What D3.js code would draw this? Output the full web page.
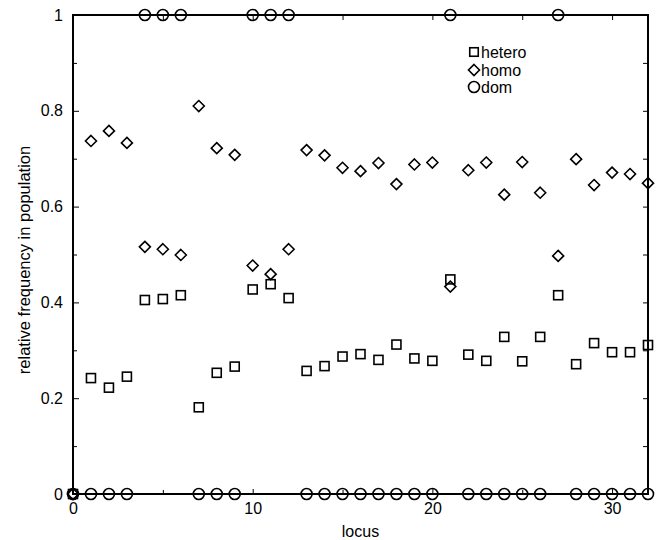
<!DOCTYPE html>
<html><head><meta charset="utf-8">
<script src="https://cdn.jsdelivr.net/npm/d3@7"></script>
<style>body{margin:0;background:#fff}svg{display:block}text{font-family:"Liberation Sans",Arial,sans-serif;fill:#000}</style>
</head><body><svg id="c" width="657" height="540"></svg>
<script>
const loci = d3.range(0, 33);
const hetero = [0,0.242,0.222,0.245,0.405,0.407,0.415,0.181,0.253,0.266,0.427,0.438,0.409,0.257,0.267,0.287,0.292,0.280,0.312,0.283,0.278,0.448,0.291,0.278,0.328,0.277,0.328,0.415,0.271,0.315,0.296,0.296,0.311];
const homo = [0,0.737,0.758,0.733,0.516,0.511,0.499,0.810,0.722,0.708,0.477,0.459,0.511,0.718,0.707,0.681,0.674,0.691,0.647,0.688,0.692,0.433,0.676,0.692,0.625,0.693,0.629,0.497,0.699,0.645,0.671,0.668,0.649];
const dom = [0,0,0,0,1,1,1,0,0,0,1,1,1,0,0,0,0,0,0,0,0,1,0,0,0,0,0,1,0,0,0,0,0];
const yTicks = [0,0.2,0.4,0.6,0.8,1];
const yMinor = [0.1,0.3,0.5,0.7,0.9];
const xTicks = [0,10,20,30];
const xMinor = [5,15,25];
const seriesNames = ["hetero","homo","dom"];

const svg = d3.select("#c");
const x = d3.scaleLinear().domain([0,32]).range([73,648]);
const y = d3.scaleLinear().domain([0,1]).range([494,15]);

const fs = "16px";
function styleAxis(g){ g.select(".domain").remove(); g.selectAll("line").attr("stroke","#000").attr("stroke-width",1); g.selectAll("text").style("font-size",fs).style("font-family","Liberation Sans, Arial, sans-serif"); }
svg.append("g").attr("transform",`translate(${x(0)},0)`)
  .call(d3.axisLeft(y).tickValues(yTicks).tickSizeInner(-6).tickPadding(10).tickFormat(d3.format("~g"))).call(styleAxis);
svg.append("g").attr("transform",`translate(${x(0)},0)`)
  .call(d3.axisLeft(y).tickValues(yMinor).tickSizeInner(-4).tickFormat("")).call(styleAxis);
svg.append("g").attr("transform",`translate(${x(32)},0)`)
  .call(d3.axisRight(y).tickValues(yTicks.concat(yMinor)).tickSizeInner(-5).tickFormat("")).call(styleAxis);
const xa = svg.append("g").attr("transform",`translate(0,${y(0)})`)
  .call(d3.axisBottom(x).tickValues(xTicks).tickSizeInner(-5).tickFormat(d3.format("d"))).call(styleAxis);
xa.selectAll("text").attr("y",20).attr("dy",null);
svg.append("g").attr("transform",`translate(0,${y(0)})`)
  .call(d3.axisBottom(x).tickValues(xMinor).tickSizeInner(-4).tickFormat("")).call(styleAxis);
svg.append("g").attr("transform",`translate(0,${y(1)})`)
  .call(d3.axisTop(x).tickValues(xTicks.concat(xMinor)).tickSizeInner(-5).tickFormat("")).call(styleAxis);

// frame
svg.append("rect").attr("x",x(0)).attr("y",y(1)).attr("width",x(32)-x(0)).attr("height",y(0)-y(1))
  .attr("fill","none").attr("stroke","#000").attr("stroke-width",2);

// titles
svg.append("text").attr("x",(x(0)+x(32))/2).attr("y",537).attr("text-anchor","middle").style("font-size",fs).text("locus");
svg.append("text").attr("transform",`translate(30,260) rotate(-90)`).attr("text-anchor","middle").style("font-size","16.5px").text("relative frequency in population");

const sw = 1.6;
function square(g, cx, cy, s){ g.append("rect").attr("x",cx-s/2).attr("y",cy-s/2).attr("width",s).attr("height",s).attr("fill","none").attr("stroke","#000").attr("stroke-width",sw); }
function diamond(g, cx, cy, r){ g.append("path").attr("d",`M${cx},${cy-r}L${cx+r},${cy}L${cx},${cy+r}L${cx-r},${cy}Z`).attr("fill","none").attr("stroke","#000").attr("stroke-width",sw); }
function circle(g, cx, cy, r){ g.append("circle").attr("cx",cx).attr("cy",cy).attr("r",r).attr("fill","none").attr("stroke","#000").attr("stroke-width",sw); }

const pts = svg.append("g");
loci.forEach((l,i)=>square(pts, x(l), y(hetero[i]), 9));
loci.forEach((l,i)=>diamond(pts, x(l), y(homo[i]), 5.5));
loci.forEach((l,i)=>circle(pts, x(l), y(dom[i]), 5.5));

// legend
const lg = svg.append("g");
const ly = [52,70,87];
square(lg, 474, ly[0], 8.5);
diamond(lg, 474, ly[1], 5.5);
circle(lg, 474, ly[2], 5.5);
seriesNames.forEach((n,i)=>lg.append("text").attr("x",481).attr("y",ly[i]).attr("dy","0.35em").style("font-size",fs).text(n));
</script></body></html>
